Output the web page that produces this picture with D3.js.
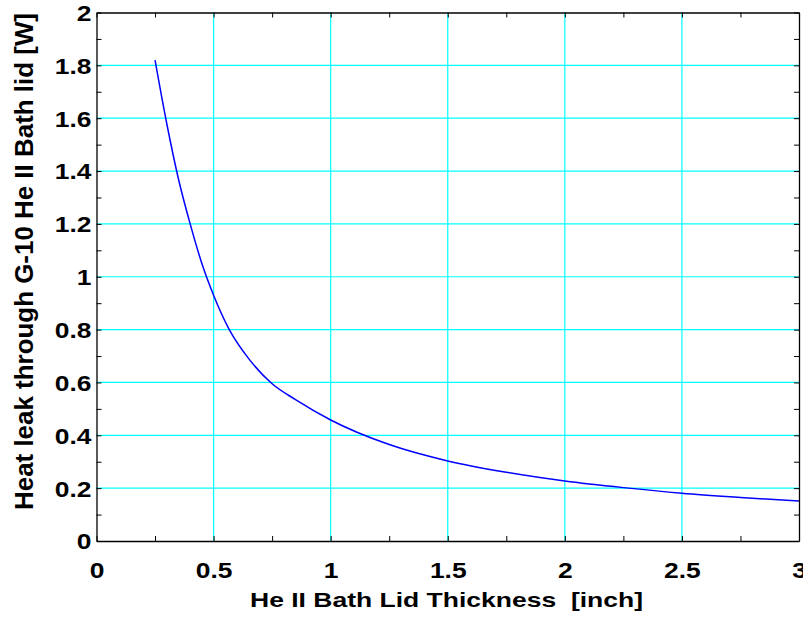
<!DOCTYPE html>
<head>
  <meta charset="utf-8" />
  <script src="https://d3js.org/d3.v7.min.js"></script>
  <style>
    body { margin: 0; background: #fff; }
    svg { display: block; font-family: "Liberation Sans", Arial, sans-serif; font-weight: bold; }
  </style>
</head>
<body>
  <svg width="803" height="623"></svg>
  <script>
    // lid thickness [inch] and heat leak [W]
    var thickness = [0.25, 0.3, 0.35, 0.4, 0.45, 0.5, 0.567, 0.65, 0.75, 0.85, 1.0, 1.25, 1.5, 1.75, 2.0, 2.25, 2.5, 2.75, 3.0];
    var heatLeak = [1.82, 1.58, 1.37, 1.20, 1.05, 0.93, 0.80, 0.69, 0.595, 0.535, 0.458, 0.365, 0.303, 0.26, 0.227, 0.202, 0.181, 0.165, 0.151];
    var xLabels = [0, 0.5, 1, 1.5, 2, 2.5, 3];
    var yLabels = [0, 0.2, 0.4, 0.6, 0.8, 1, 1.2, 1.4, 1.6, 1.8, 2];

    var pLeft = 96.5, pRight = 799, pTop = 12.5, pBottom = 541;
    var svg = d3.select("svg");
    var x = d3.scaleLinear().domain([0, 3]).range([pLeft, pRight]);
    var y = d3.scaleLinear().domain([0, 2]).range([pBottom, pTop]);

    // grid
    var g = svg.append("g").attr("stroke", "#00ffff").attr("stroke-width", 1.2);
    g.selectAll("line.gx").data(xLabels.slice(1, -1)).enter().append("line")
      .attr("x1", d => x(d)).attr("x2", d => x(d)).attr("y1", pTop).attr("y2", pBottom);
    g.selectAll("line.gy").data(yLabels.slice(1, -1)).enter().append("line")
      .attr("x1", pLeft).attr("x2", pRight).attr("y1", d => y(d)).attr("y2", d => y(d));

    // curve
    var line = d3.line().x(d => x(d[0])).y(d => y(d[1])).curve(d3.curveMonotoneX);
    svg.append("path")
      .datum(thickness.map((t, i) => [t, heatLeak[i]]))
      .attr("fill", "none").attr("stroke", "#0000ff").attr("stroke-width", 1.5)
      .attr("d", line);

    // axes box with inward ticks
    var xTicks = d3.range(0, 13).map(i => i * 0.25);
    var yTicks = d3.range(0, 21).map(i => i * 0.1);
    var isLabel = (list, d) => list.some(v => Math.abs(v - d) < 1e-6);
    var bottomAxis = d3.axisBottom(x).tickValues(xTicks).tickSizeInner(-5).tickSizeOuter(0)
      .tickFormat(d => isLabel(xLabels, d) ? d3.format("~g")(d) : "");
    var topAxis = d3.axisTop(x).tickValues(xTicks).tickSizeInner(-5).tickSizeOuter(0).tickFormat("");
    var leftAxis = d3.axisLeft(y).tickValues(yTicks).tickSizeInner(-5).tickSizeOuter(0)
      .tickFormat(d => isLabel(yLabels, d) ? d3.format("~g")(d) : "");
    var rightAxis = d3.axisRight(y).tickValues(yTicks).tickSizeInner(-5).tickSizeOuter(0).tickFormat("");

    function style(sel) {
      sel.attr("font-family", null).attr("font-size", null);
      sel.selectAll(".domain").attr("stroke", "#000").attr("stroke-width", 1.3);
      sel.selectAll(".tick line").attr("stroke", "#000");
      sel.selectAll("text").attr("fill", "#000").style("font-size", "22px");
    }
    var sx = 1.2; // tick labels in the reference are wider than the font
    var bx = svg.append("g").attr("transform", "translate(0," + pBottom + ")").call(bottomAxis).call(style);
    bx.selectAll("text").attr("dy", null).attr("y", 0)
      .attr("transform", "translate(0,36.5) scale(" + sx + ",1)");
    svg.append("g").attr("transform", "translate(0," + pTop + ")").call(topAxis).call(style);
    var lx = svg.append("g").attr("transform", "translate(" + pLeft + ",0)").call(leftAxis).call(style);
    lx.selectAll("text").attr("x", 0).attr("dy", "0.36em")
      .attr("transform", "translate(-5,0) scale(" + sx + ",1)");
    svg.append("g").attr("transform", "translate(" + pRight + ",0)").call(rightAxis).call(style);

    // axis titles
    svg.append("text").attr("x", 250).attr("y", 607)
      .style("font-size", "21px").attr("textLength", 393).attr("lengthAdjust", "spacingAndGlyphs")
      .style("white-space", "pre")
      .text("He II Bath Lid Thickness  [inch]");
    svg.append("text")
      .attr("transform", "translate(33,510) rotate(-90)")
      .style("font-size", "26px").attr("textLength", 497).attr("lengthAdjust", "spacingAndGlyphs")
      .text("Heat leak through G-10 He II Bath lid [W]");
  </script>
</body>
